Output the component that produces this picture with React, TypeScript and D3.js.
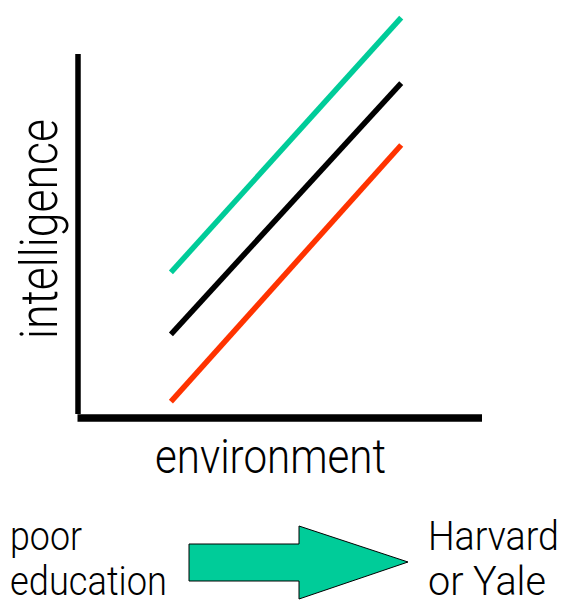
import React, { useRef, useEffect } from 'react';
import * as d3 from 'd3';

// environment positions where each line starts / ends
const ENV = [23, 80];
// intelligence at those positions, one series per line
const SERIES_NAMES = ['high', 'mid', 'low'];
const HIGH = [40, 110];
const MID = [23, 92];
const LOW = [4.5, 75];
const SERIES_COLORS = ['#00cc99', '#000000', '#ff3300'];

const AXIS_X_LABEL = 'environment';
const AXIS_Y_LABEL = 'intelligence';
const LEFT_LABEL = ['poor', 'education'];
const RIGHT_LABEL = ['Harvard', 'or Yale'];

const W = 564;
const H = 606;
const FONT = 'Roboto, "DejaVu Sans Condensed", sans-serif';

export default function App() {
    const ref = useRef<SVGSVGElement>(null);

    useEffect(() => {
        if (!ref.current) return;
        const svg = d3.select(ref.current);
        svg.selectAll('*').remove();

        const x = d3.scaleLinear().domain([0, 100]).range([78, 482]);
        const y = d3.scaleLinear().domain([0, 100]).range([418, 54]);

        const series = [HIGH, MID, LOW];
        const line = d3.line<number>()
            .x((_, i) => x(ENV[i]))
            .y(d => y(d));

        // lines
        svg.selectAll('.trend')
            .data(series)
            .join('path')
            .attr('class', 'trend')
            .attr('d', d => line(d))
            .attr('fill', 'none')
            .attr('stroke', (_, i) => SERIES_COLORS[i])
            .attr('stroke-width', 5.5)
            .attr('data-name', (_, i) => SERIES_NAMES[i]);

        // axes
        svg.append('line')
            .attr('x1', x(0)).attr('x2', x(0))
            .attr('y1', y(100)).attr('y2', 414)
            .attr('stroke', '#000').attr('stroke-width', 5.5);
        svg.append('line')
            .attr('x1', x(0) - 0.5).attr('x2', x(100))
            .attr('y1', y(0)).attr('y2', y(0))
            .attr('stroke', '#000').attr('stroke-width', 7.5);

        // narrow text: squeeze horizontally with a scale so the box stays true
        const addText = (t: string, px: number, py: number, size: number, len: number, rot = 0) => {
            const el = svg.append('text')
                .attr('font-family', FONT)
                .attr('font-weight', 300)
                .attr('font-size', size)
                .attr('text-anchor', rot ? 'middle' : 'start')
                .text(t);
            const natural = (el.node() as SVGTextElement).getComputedTextLength() || len;
            const sx = len / natural;
            el.attr('transform', `translate(${px},${py}) rotate(${rot}) scale(${sx},1)`);
            return el;
        };

        // axis titles
        addText(AXIS_Y_LABEL, 57, 229, 52, 220, -90);
        addText(AXIS_X_LABEL, 155, 473, 48, 231);

        // arrow
        const arrow = d3.path();
        arrow.moveTo(189, 544);
        arrow.lineTo(299, 544);
        arrow.lineTo(299, 526);
        arrow.lineTo(408, 562);
        arrow.lineTo(299, 599);
        arrow.lineTo(299, 581);
        arrow.lineTo(189, 581);
        arrow.closePath();
        svg.append('path')
            .attr('d', arrow.toString())
            .attr('fill', '#00cc99')
            .attr('stroke', '#000')
            .attr('stroke-width', 1);

        const lw = [72, 157];
        LEFT_LABEL.forEach((t, i) => addText(t, 10, 550 + i * 45, 41, lw[i]));
        const rw = [131, 118];
        RIGHT_LABEL.forEach((t, i) => addText(t, 428, 550 + i * 45, 41, rw[i]));
    }, []);

    return (
        <svg
            ref={ref}
            width={W}
            height={H}
            style={{ position: 'absolute', left: 0, top: 0, background: '#fff' }}
        />
    );
}
